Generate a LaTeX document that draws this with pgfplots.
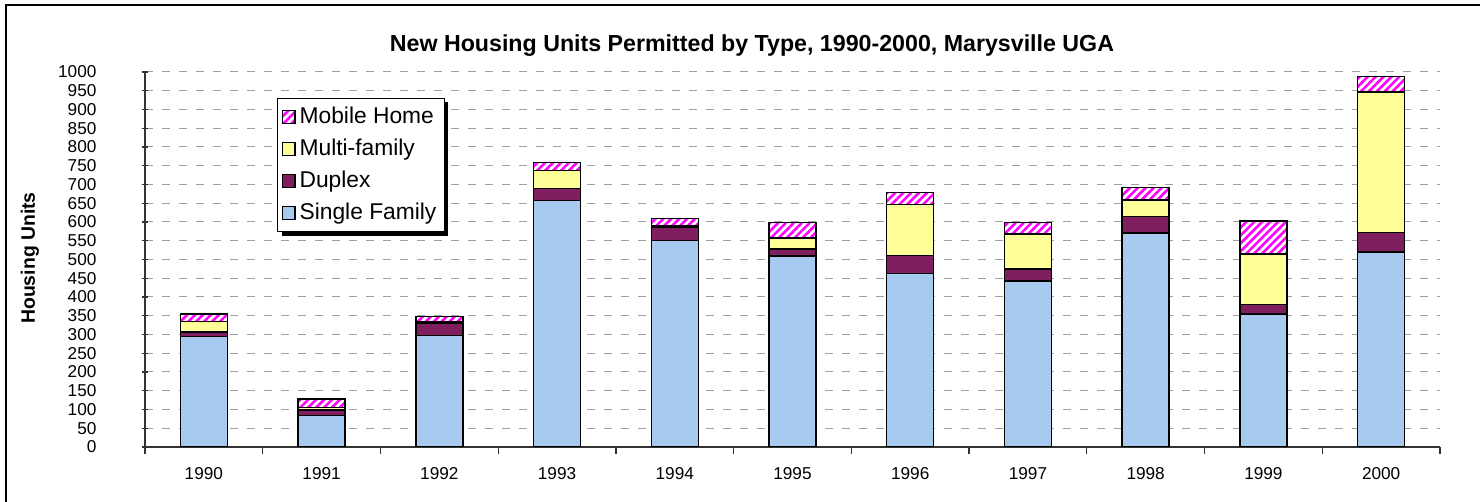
\documentclass[border=0pt]{standalone}
\usepackage{fontspec}
\setmainfont{Liberation Sans}
\usepackage{pgfplots}
\usepackage{pgfplotstable}
\pgfplotsset{compat=1.18}
\usetikzlibrary{patterns.meta,shadows}
\makeatletter
\tikzset{no preactions/.code={\let\tikz@preactions\pgfutil@empty}}
\makeatother
\definecolor{sfblue}{RGB}{166,202,240}
\definecolor{duplex}{RGB}{128,31,95}
\definecolor{multi}{RGB}{255,255,153}
\definecolor{gridgray}{RGB}{160,160,160}
\pgfplotstableread{
x sf dup mf mh
0 295 12 27 21
1 84 15 6 23
2 297 34 2 15
3 657 32 48 21
4 550 36 5 18
5 509 19 29 41
6 462 48 137 31
7 443 32 93 30
8 570 44 45 33
9 355 25 135 87
10 520 52 374 42
}\data
\begin{document}
\begin{tikzpicture}
\useasboundingbox (0,0) rectangle (740pt,251pt);
\draw[line width=0.7pt] (3pt,-2pt) -- (3pt,248.5pt) -- (742pt,248.5pt);
\begin{axis}[
  at={(72.5pt,27.5pt)}, anchor=south west,
  scale only axis, width=647.5pt, height=187.5pt,
  ybar stacked, bar width=23.5pt,
  xmin=-0.5, xmax=10.5, ymin=0, ymax=1000,
  ytick={0,50,...,1000},
  xtick={0,...,10},
  xticklabels={1990,1991,1992,1993,1994,1995,1996,1997,1998,1999,2000},
  minor xtick={-0.5,0.5,...,10.5},
  major x tick style={draw=none},
  xtick align=outside, ytick align=center,
  major tick length=3.5pt, minor tick length=3.5pt,
  axis x line*=bottom, axis y line*=left,
  axis line style={-, line width=0.6pt, black!80},
  tick style={black!80, line width=0.6pt},
  ymajorgrids,
  major grid style={dash pattern=on 4pt off 4.5pt, gridgray, line width=0.5pt},
  /pgf/number format/assume math mode=true,
  /pgf/number format/1000 sep={},
  tick label style={font=\fontsize{8.6}{9}\selectfont},
  yticklabel style={xshift=-19pt},
  xticklabel style={yshift=-3pt},
  title={\textbf{New Housing Units Permitted by Type, 1990-2000, Marysville UGA}},
  title style={font=\fontsize{11.6}{13}\selectfont, at={(axis description cs:0.4687,1.075)}, anchor=center, yshift=-7pt},
  ylabel={\textbf{Housing Units}},
  ylabel style={font=\fontsize{9.7}{11}\selectfont, at={(axis description cs:-0.0888,0.504)}, anchor=center, rotate=0},
  every axis plot/.append style={draw=black, line width=0.75pt},
  legend reversed,
  legend style={at={(0.102,0.931)}, anchor=north west, draw=black, line width=0.5pt,
    font=\fontsize{11.4}{13}\selectfont, row sep=2.2pt, inner xsep=2pt, inner ysep=2.5pt,
    drop shadow={shadow xshift=2pt, shadow yshift=-2pt, fill=black, opacity=1},
    cells={anchor=west}},
  legend image code/.code={\draw[no preactions, #1, line width=0.6pt] (0pt,-3.2pt) rectangle (6.4pt,3.2pt);},
]
\addplot[fill=sfblue] table[x=x, y=sf] {\data};
\addplot[fill=duplex] table[x=x, y=dup] {\data};
\addplot[fill=multi] table[x=x, y=mf] {\data};
\addplot[fill=white, postaction={pattern={Lines[angle=45, distance=2.8pt, line width=1.3pt]}, pattern color=magenta}] table[x=x, y=mh] {\data};
\legend{Single Family, Duplex, Multi-family, Mobile Home}
\end{axis}
\end{tikzpicture}
\end{document}
